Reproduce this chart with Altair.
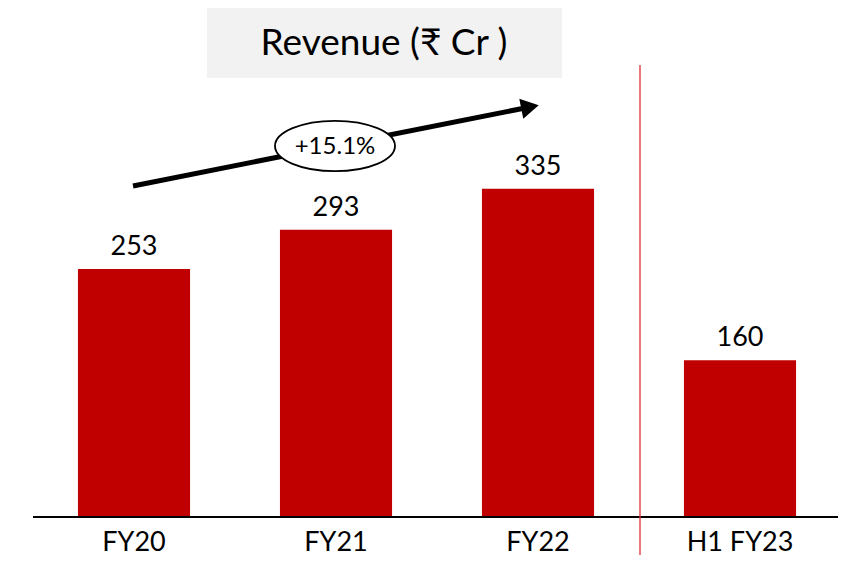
import altair as alt
import pandas as pd

categories = ["FY20", "FY21", "FY22", "H1 FY23"]
revenue = [253, 293, 335, 160]
title_text = ["Revenue (₹ Cr )"]
cagr_text = ["+15.1%"]

FONT = "Lato"
RED = "#C00000"

df = pd.DataFrame({"period": categories, "revenue": revenue})
one = pd.DataFrame({"title": title_text, "cagr": cagr_text})

W, H = 805, 504
x = alt.X("period:N", sort=categories,
          scale=alt.Scale(paddingInner=0.445, paddingOuter=0.2225, range=[0, 808]),
          axis=alt.Axis(title=None, domain=False, ticks=False, grid=False,
                        labelFont=FONT, labelFontSize=27, labelColor="#000",
                        labelPadding=12, labelAngle=0))
y = alt.Y("revenue:Q", scale=alt.Scale(domain=[0, H / 0.98], nice=False),
          axis=None)

bars = alt.Chart(df).mark_bar(color=RED).encode(x=x, y=y)
labels = alt.Chart(df).mark_text(font=FONT, fontSize=27, baseline="bottom",
                                 dy=-8, color="#000").encode(
    x=x, y=y, text=alt.Text("revenue:Q"))

baseline = alt.Chart(one).mark_rule(color="#000", strokeWidth=2).encode(
    x=alt.value(0), x2=alt.value(805), y=alt.datum(0))

divider = alt.Chart(one).mark_rule(color="#E03030", strokeWidth=1.3).encode(
    x=alt.value(607), y=alt.value(52), y2=alt.value(542))

title_box = alt.Chart(one).mark_rect(color="#F2F2F2").encode(
    x=alt.value(174), x2=alt.value(529), y=alt.value(-5), y2=alt.value(65))
title = alt.Chart(one).mark_text(font=FONT, fontSize=37, color="#000",
                                 baseline="middle").encode(
    x=alt.value(351), y=alt.value(31), text="title:N")

arrow = alt.Chart(one).mark_rule(color="#000", strokeWidth=5).encode(
    x=alt.value(100), x2=alt.value(492), y=alt.value(173), y2=alt.value(95))
head = alt.Chart(one).mark_point(shape="triangle-right", filled=True,
                                 color="#000", size=420, angle=348.75,
                                 opacity=1).encode(
    x=alt.value(497), y=alt.value(94))

ellipse = alt.Chart(one).mark_point(
    shape="M -1 0 A 1 0.42 0 1 0 1 0 A 1 0.42 0 1 0 -1 0 Z",
    filled=True, fill="white", stroke="#000", strokeWidth=1.8,
    size=14400, opacity=1).encode(x=alt.value(302), y=alt.value(133))
cagr = alt.Chart(one).mark_text(font=FONT, fontSize=24, color="#000",
                                baseline="middle").encode(
    x=alt.value(302), y=alt.value(134), text="cagr:N")

chart = alt.layer(title_box, title, bars, labels, baseline, divider,
                  arrow, head, ellipse, cagr).properties(
    width=W, height=H,
    background="white",
    autosize=alt.AutoSizeParams(type="none"),
    padding={"left": 25, "top": 5, "right": 0, "bottom": 45},
).configure_view(stroke="transparent", strokeWidth=0)

chart.save("out.html", embed_options={"renderer": "svg", "actions": False})
